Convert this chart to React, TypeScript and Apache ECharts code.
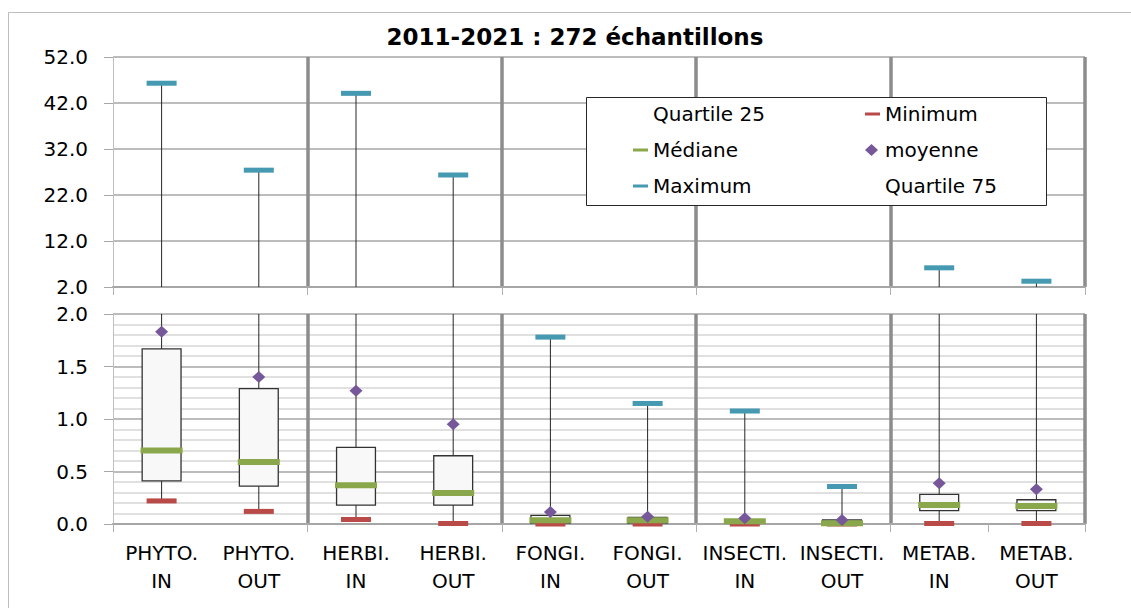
import React, { useEffect, useRef } from 'react';
import * as echarts from 'echarts';

const categories = [
  'PHYTO.\nIN', 'PHYTO.\nOUT', 'HERBI.\nIN', 'HERBI.\nOUT', 'FONGI.\nIN',
  'FONGI.\nOUT', 'INSECTI.\nIN', 'INSECTI.\nOUT', 'METAB.\nIN', 'METAB.\nOUT',
];
const minimum = [0.22, 0.12, 0.043, 0.005, 0.0, 0.0, 0.0, 0.0, 0.005, 0.005];
const quartile25 = [0.41, 0.36, 0.18, 0.18, 0.0, 0.0, 0.0, 0.0, 0.127, 0.127];
const mediane = [0.70, 0.59, 0.37, 0.295, 0.035, 0.035, 0.027, 0.007, 0.181, 0.171];
const moyenne = [1.83, 1.40, 1.27, 0.95, 0.114, 0.07, 0.054, 0.038, 0.388, 0.33];
const quartile75 = [1.667, 1.29, 0.73, 0.65, 0.083, 0.062, 0.035, 0.038, 0.283, 0.231];
const maximum = [46.3, 27.4, 44.1, 26.35, 1.78, 1.148, 1.076, 0.357, 6.17, 3.26];

const topTicks = { min: 2, max: 52, interval: 10 };
const bottomTicks = { min: 0, max: 2, interval: 0.5, minorSplit: 5 };
const titleText = '2011-2021 : 272 échantillons';

const FONT = 'DejaVu Sans';
const FS = 20;
const C_MIN = '#b94a48';
const C_MAX = '#4599b1';
const C_MED = '#8aa84b';
const C_MEAN = '#76589a';

function buildOption() {
  const breakAt = bottomTicks.max;
  const boxData = categories.map((_, i) => [i, minimum[i], quartile25[i], quartile75[i], maximum[i]]);
  const renderBox = (params: any, api: any) => {
    const x = api.value(0);
    const pLo = api.coord([x, api.value(1)]);
    const pQ1 = api.coord([x, api.value(2)]);
    const pQ3 = api.coord([x, api.value(3)]);
    const pHi = api.coord([x, api.value(4)]);
    const bw = api.size([1, 0])[0] * 0.4;
    return {
      type: 'group',
      children: [
        { type: 'line', shape: { x1: pLo[0], y1: pLo[1], x2: pHi[0], y2: pHi[1] }, style: { stroke: '#262626', lineWidth: 1 } },
        { type: 'rect', shape: { x: pQ3[0] - bw / 2, y: pQ3[1], width: bw, height: pQ1[1] - pQ3[1] }, style: { fill: '#f8f8f8', stroke: '#333', lineWidth: 1.3 } },
      ],
    };
  };

  const xAxis = [0, 1].map((gi) => ({
    type: 'category',
    gridIndex: gi,
    data: categories,
    boundaryGap: true,
    axisLine: { show: true, lineStyle: { color: '#a6a6a6', width: 2 } },
    axisTick: { show: true, interval: 1, length: 8, lineStyle: { color: '#b0b0b0', width: 1 } },
    axisLabel: gi === 1
      ? { show: true, interval: 0, color: '#000', fontFamily: FONT, fontSize: FS, lineHeight: 28, margin: 15 }
      : { show: false },
    splitLine: {
      show: true,
      interval: (idx: number) => idx % 2 === 0 && idx > 0,
      lineStyle: { color: '#8c8c8c', width: 3.5 },
    },
  }));

  const yLabel = { color: '#000', fontFamily: FONT, fontSize: FS, margin: 25, formatter: (v: number) => v.toFixed(1) };
  const yAxis = [
    {
      type: 'value', gridIndex: 0, min: topTicks.min, max: topTicks.max, interval: topTicks.interval,
      axisLine: { show: true, lineStyle: { color: '#c0c0c0', width: 1 } },
      axisTick: { show: true, length: 9, lineStyle: { color: '#a6a6a6' } },
      axisLabel: yLabel,
      splitLine: { show: true, lineStyle: { color: '#a6a6a6', width: 1.5 } },
    },
    {
      type: 'value', gridIndex: 1, min: bottomTicks.min, max: bottomTicks.max, interval: bottomTicks.interval,
      axisLine: { show: true, lineStyle: { color: '#c0c0c0', width: 1 } },
      axisTick: { show: true, length: 9, lineStyle: { color: '#a6a6a6' } },
      axisLabel: yLabel,
      minorTick: { show: false, splitNumber: bottomTicks.minorSplit },
      minorSplitLine: { show: true, lineStyle: { color: '#d6d6d6', width: 1.5 } },
      splitLine: { show: true, lineStyle: { color: '#a6a6a6', width: 1.5 } },
    },
  ];

  const scatter = (name: string, data: any[], gi: number, symbol: string, size: number[], color: string, z: number) => ({
    type: 'scatter', name, data, xAxisIndex: gi, yAxisIndex: gi, symbol, symbolSize: size,
    itemStyle: { color, opacity: 1 }, z, clip: true,
  });

  const series: any[] = [
    { type: 'line', name: 'Quartile 25', data: [], xAxisIndex: 1, yAxisIndex: 1 },
    { type: 'line', name: 'Quartile 75', data: [], xAxisIndex: 1, yAxisIndex: 1 },
    { type: 'custom', name: 'boîte', data: boxData, xAxisIndex: 0, yAxisIndex: 0, renderItem: renderBox, clip: true, z: 2, encode: { x: 0, y: [1, 2, 3, 4] } },
    { type: 'custom', name: 'boîte', data: boxData, xAxisIndex: 1, yAxisIndex: 1, renderItem: renderBox, clip: true, z: 2, encode: { x: 0, y: [1, 2, 3, 4] } },
    scatter('Minimum', minimum, 1, 'rect', [30, 5], C_MIN, 3),
    scatter('Maximum', maximum.map((v) => (v <= breakAt ? v : '-')), 1, 'rect', [30, 5], C_MAX, 3),
    scatter('Maximum', maximum.map((v) => (v >= breakAt ? v : '-')), 0, 'rect', [30, 5], C_MAX, 3),
    scatter('Médiane', mediane, 1, 'rect', [42, 6], C_MED, 4),
    scatter('moyenne', moyenne, 1, 'diamond', [13, 12], C_MEAN, 5),
  ];

  const legendBase = {
    orient: 'vertical', padding: 0, itemGap: 0, z: 10, selectedMode: false,
    textStyle: { fontFamily: FONT, fontSize: FS, color: '#000' },
  };
  const rows = [104, 140, 176];
  const legend = [
    { ...legendBase, data: [{ name: 'Quartile 25', icon: 'none' }], left: 633, top: rows[0], itemWidth: 15, itemHeight: 3 },
    { ...legendBase, data: [{ name: 'Médiane', icon: 'rect' }], left: 633, top: rows[1], itemWidth: 15, itemHeight: 3 },
    { ...legendBase, data: [{ name: 'Maximum', icon: 'rect' }], left: 633, top: rows[2], itemWidth: 15, itemHeight: 3 },
    { ...legendBase, data: [{ name: 'Minimum', icon: 'rect' }], left: 865, top: rows[0], itemWidth: 15, itemHeight: 3 },
    { ...legendBase, data: [{ name: 'moyenne', icon: 'diamond' }], left: 865, top: rows[1], itemWidth: 13, itemHeight: 12, textStyle: { ...legendBase.textStyle, padding: [0, 0, 0, 2] } },
    { ...legendBase, data: [{ name: 'Quartile 75', icon: 'none' }], left: 865, top: rows[2], itemWidth: 15, itemHeight: 3 },
  ];

  return {
    animation: false,
    backgroundColor: '#fff',
    title: {
      text: titleText, left: 575, top: 25, padding: 0, textAlign: 'center',
      textStyle: { fontFamily: FONT, fontWeight: 'bold', fontSize: 23, color: '#000' },
    },
    grid: [
      { left: 113, top: 57, width: 972, height: 230, containLabel: false },
      { left: 113, top: 314, width: 972, height: 210, containLabel: false },
    ],
    xAxis,
    yAxis,
    legend,
    graphic: [
      { type: 'rect', z: 0, silent: true, shape: { x: 8.5, y: 12.5, width: 1400, height: 800 }, style: { fill: 'none', stroke: '#bdbdbd', lineWidth: 1 } },
      { type: 'rect', z: 8, silent: true, shape: { x: 586.5, y: 97.5, width: 460, height: 108 }, style: { fill: '#fff', stroke: '#262626', lineWidth: 1 } },
    ],
    series,
  };
}

export default function App() {
  const ref = useRef<HTMLDivElement>(null);
  useEffect(() => {
    const chart = echarts.init(ref.current!, undefined, { renderer: 'svg' });
    chart.setOption(buildOption() as any);
    return () => chart.dispose();
  }, []);
  return <div ref={ref} style={{ position: 'absolute', left: 0, top: 0, width: 1131, height: 608 }} />;
}
